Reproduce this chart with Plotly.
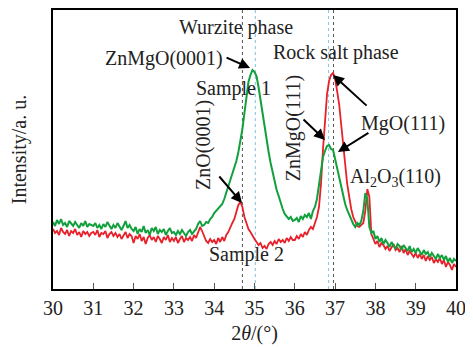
import numpy as np
import plotly.graph_objects as go

# 2theta grid (degrees)
two_theta = np.round(np.arange(30.0, 40.0001, 0.05), 2)

# Sample 1 (green) intensity, arbitrary units
sample1 = [
    67, 63, 69, 65, 70, 64, 66, 62, 68, 65, 63, 67, 64, 61, 66, 63, 68, 62, 65, 64,
    63, 66, 61, 64, 60, 65, 62, 67, 63, 60, 64, 61, 66, 62, 59, 63, 68, 61, 64, 60,
    58, 62, 55, 60, 57, 63, 56, 59, 54, 61, 58, 62, 55, 59, 57, 60, 54, 58, 61, 56,
    57, 54, 58, 55, 59, 56, 53, 57, 59, 55, 58, 60, 65, 68, 63, 64, 67, 66, 70, 72,
    76, 78, 80, 83, 85, 90, 96, 103, 108, 116, 120, 128, 137, 148, 160, 176, 193, 207, 214, 219,
    217, 213, 202, 188, 174, 160, 148, 137, 126, 116, 106, 99, 93, 86, 80, 75, 73, 70, 72, 68,
    69, 71, 67, 73, 70, 74, 72, 76, 70, 78, 82, 90, 104, 120, 132, 138, 143, 144, 140, 139,
    130, 121, 112, 101, 92, 85, 79, 74, 68, 65, 62, 66, 64, 68, 78, 96, 90, 62, 56, 58,
    50, 53, 47, 51, 45, 49, 46, 42, 47, 44, 40, 45, 43, 39, 44, 41, 38, 43, 37, 40,
    36, 41, 38, 34, 39, 35, 37, 32, 36, 33, 30, 35, 31, 34, 29, 33, 27, 31, 26, 30,
    28,
]

# Sample 2 (red) intensity, arbitrary units
sample2 = [
    60, 56, 58, 54, 61, 57, 55, 59, 53, 58, 56, 60, 54, 57, 52, 58, 55, 57, 53, 56,
    57, 54, 59, 52, 56, 55, 58, 51, 55, 57, 53, 56, 52, 55, 50, 54, 57, 51, 55, 53,
    46, 53, 50, 55, 48, 52, 45, 51, 54, 49, 52, 47, 53, 50, 46, 52, 49, 54, 47, 51,
    48, 52, 46, 50, 53, 47, 51, 49, 52, 48, 54, 51, 56, 62, 58, 52, 48, 46, 50, 47,
    49, 45, 51, 47, 52, 48, 54, 57, 62, 66, 70, 76, 84, 87, 82, 72, 66, 60, 57, 53,
    50, 47, 44, 46, 41, 43, 40, 45, 47, 44, 48, 45, 50, 47, 49, 46, 51, 48, 52, 49,
    49, 53, 50, 55, 52, 57, 54, 59, 62, 60, 66, 72, 82, 105, 140, 170, 195, 208, 214, 216,
    210, 198, 185, 165, 148, 125, 105, 90, 80, 72, 68, 63, 62, 64, 66, 78, 100, 92, 55, 50,
    45, 48, 42, 46, 44, 40, 43, 38, 42, 45, 39, 41, 37, 43, 36, 40, 34, 38, 35, 32,
    36, 31, 35, 30, 34, 28, 33, 29, 32, 26, 30, 27, 31, 25, 29, 22, 27, 24, 19, 25,
    22,
]

x_ticks = [30, 31, 32, 33, 34, 35, 36, 37, 38, 39, 40]
ref_black = [34.70, 36.96]
ref_cyan = [35.02, 36.84]

SERIF = "Liberation Serif, Times New Roman, serif"
FS = 20

fig = go.Figure()
fig.add_trace(go.Scatter(x=two_theta, y=sample2, mode="lines",
                         line=dict(color="#e8202a", width=1.8), name="Sample 2"))
fig.add_trace(go.Scatter(x=two_theta, y=sample1, mode="lines",
                         line=dict(color="#11a03c", width=2), name="Sample 1"))

for xv in ref_black:
    fig.add_shape(type="line", xref="x", yref="paper", x0=xv, x1=xv, y0=0, y1=1,
                  line=dict(color="#555555", width=1, dash="dot"), layer="below")
for xv in ref_cyan:
    fig.add_shape(type="line", xref="x", yref="paper", x0=xv, x1=xv, y0=0, y1=1,
                  line=dict(color="#7cc4dc", width=1, dash="dot"), layer="below")

def txt(x, y, s, angle=0):
    fig.add_annotation(x=x, y=y, xref="x", yref="y", text=s, showarrow=False,
                       textangle=angle, font=dict(family=SERIF, size=FS, color="#222"))

def arrow(x, y, ax, ay):
    fig.add_annotation(x=x, y=y, xref="x", yref="y", text="", showarrow=True,
                       ax=ax, ay=ay, arrowhead=2, arrowsize=1.1, arrowwidth=2,
                       arrowcolor="black")

txt(34.54, 262, "Wurzite phase")
txt(37.02, 237, "Rock salt phase")
txt(32.75, 231, "ZnMgO(0001)")
txt(34.47, 201, "Sample 1")
txt(33.72, 144, "ZnO(0001)", -90)
txt(35.96, 161, "ZnMgO(111)", -90)
txt(38.68, 166, "MgO(111)")
txt(38.51, 112, "Al<sub>2</sub>O<sub>3</sub>(110)")
txt(34.81, 35, "Sample 2")

arrow(34.89, 221, -25, -11)
arrow(34.69, 86, -24, -28)
arrow(36.75, 149, -23, -22)
arrow(36.95, 214, 35, 32)
arrow(37.07, 137, 32, -20)

# page body has an 8px margin, so the figure is sized/offset to compensate
fig.update_layout(
    width=465, height=339,
    margin=dict(l=45, r=17, t=2, b=58),
    paper_bgcolor="white", plot_bgcolor="white",
    showlegend=False,
    font=dict(family=SERIF, size=FS, color="#222"),
    xaxis=dict(range=[30, 40], tickvals=x_ticks, ticktext=[str(t) for t in x_ticks],
               ticks="inside", ticklen=6, tickwidth=1, tickcolor="#555",
               showline=True, linecolor="black", linewidth=1.5, mirror=True,
               showgrid=False, zeroline=False, automargin=False,
               tickfont=dict(family=SERIF, size=FS, color="#222"),
               title=dict(text="2<i>θ</i>/(°)", standoff=8,
                          font=dict(family=SERIF, size=FS, color="#222"))),
    yaxis=dict(range=[0, 279], showticklabels=False, ticks="",
               showline=True, linecolor="black", linewidth=1.5, mirror=True,
               showgrid=False, zeroline=False, automargin=False,
               title=dict(text="Intensity/a. u.", standoff=22,
                          font=dict(family=SERIF, size=FS, color="#222"))),
)

fig.write_html("out.html")
